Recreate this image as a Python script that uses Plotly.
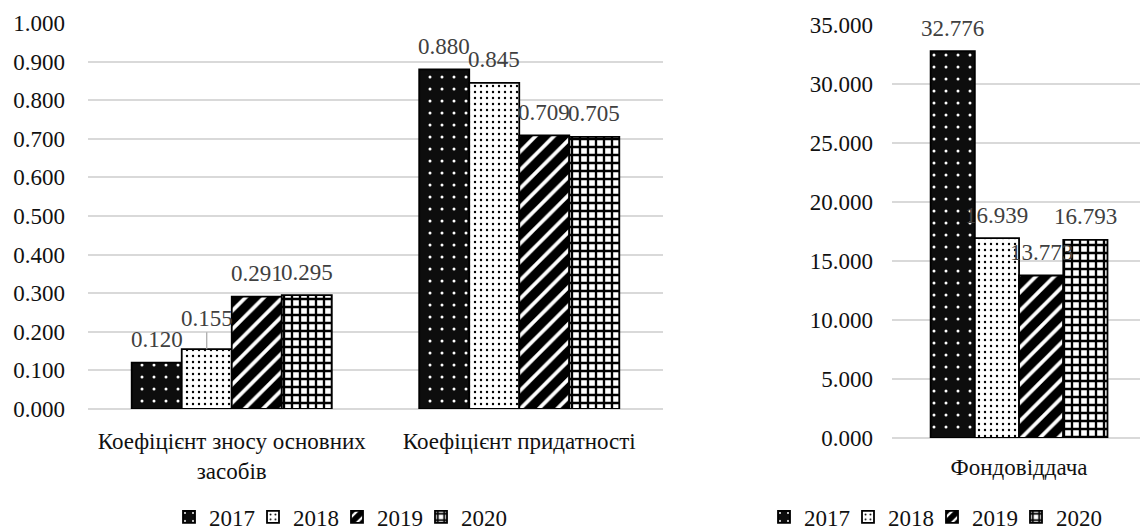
import plotly.graph_objects as go

# ---- data ----
years = ["2017", "2018", "2019", "2020"]
left_categories = ["Коефіцієнт зносу основних<br>засобів", "Коефіцієнт придатності"]
left_values = {
    "2017": [0.120, 0.880],
    "2018": [0.155, 0.845],
    "2019": [0.291, 0.709],
    "2020": [0.295, 0.705],
}
right_categories = ["Фондовіддача"]
right_values = {
    "2017": [32.776],
    "2018": [16.939],
    "2019": [13.773],
    "2020": [16.793],
}
left_ticks = [round(i * 0.1, 1) for i in range(11)]
right_ticks = [i * 5 for i in range(8)]

# ---- style ----
W, H = 1140, 530
FONT = "Liberation Serif, Times New Roman, serif"
FS = 23
patterns = {
    "2017": dict(shape=".", bgcolor="#0d0d0d", fgcolor="white", size=12, solidity=0.05, fgopacity=1),
    "2018": dict(shape=".", bgcolor="white", fgcolor="black", size=6, solidity=0.12, fgopacity=1),
    "2019": dict(shape="/", bgcolor="white", fgcolor="black", size=13, solidity=0.72, fgopacity=1),
    "2020": dict(shape="+", bgcolor="white", fgcolor="black", size=8, solidity=0.5, fgopacity=1),
}
base_colors = {"2017": "#0d0d0d", "2018": "white", "2019": "white", "2020": "white"}

BARGAP = 0.304
left_dom = [88 / W, 663 / W]
right_dom = [892 / W, 1.0]
right_range = [-0.5, 0.476]

fig = go.Figure()
for y in years:
    fig.add_trace(go.Bar(
        x=left_categories, y=left_values[y], name=y,
        marker=dict(color=base_colors[y], pattern=patterns[y],
                    line=dict(color="black", width=1.8)),
        xaxis="x", yaxis="y", legend="legend", hoverinfo="skip",
    ))
for y in years:
    fig.add_trace(go.Bar(
        x=right_categories, y=right_values[y], name=y,
        marker=dict(color=base_colors[y], pattern=patterns[y],
                    line=dict(color="black", width=1.8)),
        xaxis="x2", yaxis="y2", legend="legend2", hoverinfo="skip",
    ))
# invisible trailing legend entries (keep the last legend text from being clipped)
for lg in ["legend", "legend2"]:
    fig.add_trace(go.Bar(
        x=[None], y=[None], name=" ", legend=lg, showlegend=True,
        marker=dict(color="rgba(0,0,0,0)", line=dict(width=0)),
        xaxis="x3", yaxis="y3", hoverinfo="skip",
    ))

# data labels as annotations placed over each bar
left_cat_px = (left_dom[1] - left_dom[0]) * W / len(left_categories)
left_bar_px = left_cat_px * (1 - BARGAP) / len(years)
right_cat_px = (right_dom[1] - right_dom[0]) * W / (right_range[1] - right_range[0])
right_bar_px = right_cat_px * (1 - BARGAP) / len(years)

label_lift = {("0", "2018"): 31}  # label moved up with leader line
annotations = []
for i, yr in enumerate(years):
    off = i - (len(years) - 1) / 2
    for j, cat in enumerate(left_categories):
        v = left_values[yr][j]
        lift = label_lift.get((str(j), yr))
        a = dict(x=cat, y=v, xref="x", yref="y", text=f"{v:.3f}",
                 xshift=off * left_bar_px,
                 font=dict(family=FONT, size=FS, color="#404040"))
        if lift:
            a.update(showarrow=True, arrowhead=0, arrowwidth=1.2,
                     arrowcolor="#a6a6a6", ax=0, ay=-lift, standoff=0)
        else:
            a.update(showarrow=False, yanchor="middle", yshift=23)
        annotations.append(a)
    for j, cat in enumerate(right_categories):
        v = right_values[yr][j]
        annotations.append(dict(
            x=cat, y=v, xref="x2", yref="y2", text=f"{v:.3f}",
            xshift=off * right_bar_px, showarrow=False, yanchor="middle", yshift=23,
            font=dict(family=FONT, size=FS, color="#404040")))

grid = dict(showgrid=True, gridcolor="#d9d9d9", gridwidth=1.5,
            zeroline=True, zerolinecolor="#d9d9d9", zerolinewidth=1.5,
            showline=False, ticks="", automargin=False,
            tickfont=dict(family=FONT, size=FS, color="#111"))
xstyle = dict(showgrid=False, zeroline=False, showline=False, ticks="", automargin=False,
              tickfont=dict(family=FONT, size=FS, color="#111"))

legend_common = dict(orientation="h", yanchor="middle", y=(H - 517) / H,
                     xanchor="left", font=dict(family=FONT, size=FS, color="#111"),
                     entrywidth=39, entrywidthmode="pixels",
                     bgcolor="rgba(0,0,0,0)", itemclick=False, itemdoubleclick=False)

fig.update_layout(
    width=W, height=H, margin=dict(l=0, r=0, t=0, b=0, autoexpand=False),
    paper_bgcolor="white", plot_bgcolor="white",
    barmode="group", bargap=BARGAP, bargroupgap=0,
    font=dict(family=FONT, size=FS, color="#111"),
    xaxis=dict(domain=left_dom, anchor="y", ticklabelstandoff=16, **xstyle),
    yaxis=dict(domain=[(H - 409) / H, (H - 23) / H], anchor="x", range=[0, 1],
               tickvals=left_ticks, tickformat=".3f", ticklabelstandoff=22, **grid),
    xaxis2=dict(domain=right_dom, anchor="y2", range=right_range,
                ticklabelstandoff=13, **xstyle),
    yaxis2=dict(domain=[(H - 438) / H, (H - 25) / H], anchor="x2", range=[0, 35],
                tickvals=right_ticks, tickformat=".3f", ticklabelstandoff=18, **grid),
    xaxis3=dict(domain=[0, 0.001], anchor="y3", visible=False),
    yaxis3=dict(domain=[0, 0.001], anchor="x3", visible=False),
    legend=dict(x=169 / W, **legend_common),
    legend2=dict(x=764 / W, **legend_common),
    annotations=annotations,
    showlegend=True,
)

fig.write_html("out.html")
